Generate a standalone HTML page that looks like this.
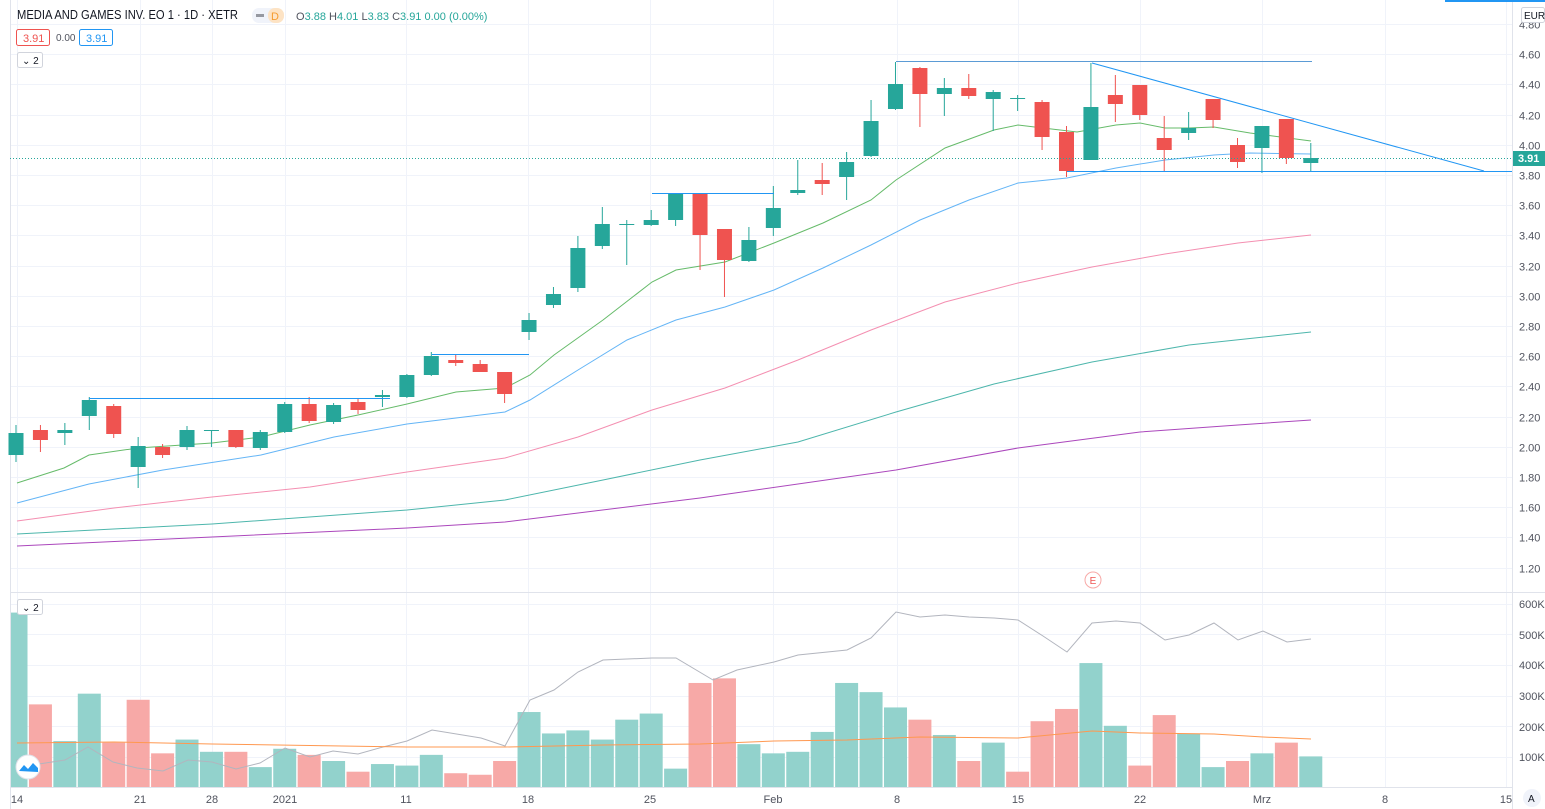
<!DOCTYPE html>
<html><head><meta charset="utf-8"><style>
body{margin:0;width:1545px;height:809px;overflow:hidden;background:#fff;font-family:"Liberation Sans",sans-serif}
svg{position:absolute;left:0;top:0}
.t{font-size:11px;fill:#131722}
.ax{font-size:11px;fill:#50535e}
</style></head><body>
<svg id="s" width="1545" height="809" xmlns="http://www.w3.org/2000/svg">
<defs><clipPath id="cp"><rect x="11" y="0" width="1501" height="787"/></clipPath></defs>
<g id="grid" stroke="#f0f3fa" stroke-width="1"></g>
<line x1="1512.5" y1="0" x2="1512.5" y2="809" stroke="#e0e3eb"/>
<line x1="10" y1="592.5" x2="1545" y2="592.5" stroke="#e0e3eb"/>
<line x1="10" y1="787.5" x2="1512" y2="787.5" stroke="#e0e3eb"/>
<line x1="10.5" y1="0" x2="10.5" y2="809" stroke="#e0e3eb"/>
<rect x="1445" y="0" width="100" height="2" fill="#2196f3"/>
<g id="vol" clip-path="url(#cp)"></g>
<g id="lines" fill="none"></g>
<g id="cand"></g>
<line x1="10" y1="158.5" x2="1512" y2="158.5" stroke="#26a69a" stroke-dasharray="1,2"/>
<g stroke="#2196f3" stroke-width="1">
<line x1="89" y1="398.5" x2="390" y2="398.5"/>
<line x1="432" y1="354.5" x2="529" y2="354.5"/>
<line x1="652" y1="193.5" x2="774" y2="193.5"/>
<line x1="896" y1="61.5" x2="1312" y2="61.5" stroke="#5b9bd5"/>
<line x1="1092" y1="63" x2="1484" y2="171"/>
<line x1="1067" y1="171.5" x2="1512" y2="171.5"/>
</g>
<circle cx="1093" cy="580" r="8" fill="#fff" stroke="#f7a9a7"/>
<text x="1093" y="584" font-size="10" fill="#ef5350" text-anchor="middle">E</text>
<text x="17" y="19" font-size="13" fill="#131722" textLength="221" lengthAdjust="spacingAndGlyphs">MEDIA AND GAMES INV. EO 1 · 1D · XETR</text>
<rect x="252" y="8" width="32" height="15" rx="7" fill="#f0f3fa"/>
<rect x="268" y="8" width="16" height="15" rx="7" fill="#fde3c4"/>
<rect x="256" y="14" width="8" height="3" fill="#9598a1"/>
<text x="271" y="20" font-size="11" fill="#f59b2f">D</text>
<text x="296" y="20" font-size="11" fill="#50535e">O<tspan fill="#26a69a">3.88</tspan> H<tspan fill="#26a69a">4.01</tspan> L<tspan fill="#26a69a">3.83</tspan> C<tspan fill="#26a69a">3.91 0.00 (0.00%)</tspan></text>
<rect x="16.5" y="29.5" width="33" height="16" rx="2" fill="#fff" stroke="#ef5350"/>
<text x="23" y="42" font-size="11" fill="#ef5350">3.91</text>
<text x="56" y="41" font-size="10" fill="#50535e">0.00</text>
<rect x="79.5" y="29.5" width="33" height="16" rx="2" fill="#fff" stroke="#2196f3"/>
<text x="86" y="42" font-size="11" fill="#2196f3">3.91</text>
<rect x="17.5" y="52.5" width="25" height="15" rx="2" fill="#fff" stroke="#d1d4dc"/>
<text x="22" y="64" font-size="10" fill="#131722">⌄ 2</text>
<rect x="17.5" y="599.5" width="25" height="15" rx="2" fill="#fff" stroke="#d1d4dc"/>
<text x="22" y="611" font-size="10" fill="#131722">⌄ 2</text>
<circle cx="28" cy="767" r="12" fill="#fff" stroke="#e0e3eb"/>
<path d="M19 771 l5-6 4 4 5-6 5 5 v4z" fill="#2196f3"/>
<g class="ax" id="pax"></g>
<rect x="1521.5" y="7.5" width="23" height="15" rx="2" fill="#fff" stroke="#d1d4dc"/>
<text x="1524" y="19" font-size="10" fill="#131722">EUR</text>
<rect x="1513" y="151" width="32" height="15" fill="#26a69a"/>
<text x="1518" y="162" font-size="11" font-weight="bold" fill="#fff">3.91</text>
<g class="ax">
<text x="1519" y="608">600K</text><text x="1519" y="639">500K</text><text x="1519" y="669">400K</text>
<text x="1519" y="700">300K</text><text x="1519" y="731">200K</text><text x="1519" y="761">100K</text>
</g>
<g class="ax" text-anchor="middle">
<text x="17" y="803">14</text><text x="140" y="803">21</text><text x="212" y="803">28</text>
<text x="285" y="803">2021</text><text x="406" y="803">11</text><text x="528" y="803">18</text>
<text x="650" y="803">25</text><text x="773" y="803">Feb</text><text x="897" y="803">8</text>
<text x="1018" y="803">15</text><text x="1140" y="803">22</text><text x="1262" y="803">Mrz</text>
<text x="1385" y="803">8</text><text x="1506" y="803">15</text>
</g>
<circle cx="1532" cy="798" r="9" fill="#f0f3fa"/>
<text x="1528" y="802" font-size="10" fill="#131722">A</text>
</svg>
<script>
const NS="http://www.w3.org/2000/svg";
function el(p,t,a){const e=document.createElementNS(NS,t);for(const k in a)e.setAttribute(k,a[k]);document.getElementById(p).appendChild(e);return e;}
const X=i=>16+i*24.43;
[17,140,212,285,406,528,650,773,897,1018,1140,1262,1385,1506].forEach(x=>el("grid","line",{x1:x+.5,y1:0,x2:x+.5,y2:787}));
for(let k=0;k<19;k++){const p=4.8-k*0.2,y=Math.round(175+(3.8-p)*151)+.5;el("grid","line",{x1:10,y1:y,x2:1512,y2:y});
 const t=el("pax","text",{x:1519,y:y+4});t.textContent=p.toFixed(2);}
[604,634,665,696,726,757].forEach(y=>el("grid","line",{x1:10,y1:y+.5,x2:1512,y2:y+.5}));
const V=[[570,1],[270,0],[150,1],[305,1],[145,0],[285,0],[110,0],[155,1],[115,1],[115,0],[65,1],[125,1],[105,0],[85,1],[50,0],[75,1],[70,1],[105,1],[45,0],[40,0],[85,0],[245,1],[175,1],[185,1],[155,1],[220,1],[240,1],[60,1],[340,0],[355,0],[140,1],[110,1],[115,1],[180,1],[340,1],[310,1],[260,1],[220,0],[170,1],[85,0],[145,1],[50,0],[215,0],[255,0],[405,1],[200,1],[70,0],[235,0],[175,1],[65,1],[85,0],[110,1],[145,0],[100,1]];
V.forEach((v,i)=>{const h=v[0]*0.306;el("vol","rect",{x:X(i)-11.5,y:787-h,width:23,height:h,fill:v[1]?"#92d2cc":"#f7a9a7"});});
function pl(pts,c,w){el("lines","polyline",{points:pts.map(p=>p.join(",")).join(" "),stroke:c,"stroke-width":w||1});}
pl([[17,483],[64,468],[89,455],[138,448],[212,443],[261,437],[310,425],[358,415],[407,404],[456,392],[505,388],[530,375],[554,355],[603,320],[652,282],[676,270],[725,262],[774,243],[823,223],[871,200],[896,180],[945,148],[994,130],[1018,125],[1043,128],[1077,132],[1116,125],[1140,123],[1165,128],[1189,128],[1214,127],[1250,133],[1311,141]],"#66bb6a");
pl([[17,503],[89,484],[163,470],[261,455],[334,437],[407,424],[456,418],[505,412],[530,400],[578,370],[627,340],[676,320],[725,307],[774,290],[823,268],[871,245],[920,220],[969,200],[1018,183],[1067,178],[1116,168],[1165,160],[1214,155],[1250,153],[1311,154]],"#64b5f6");
pl([[17,521],[114,508],[212,497],[310,487],[407,472],[505,458],[578,437],[652,410],[725,388],[798,360],[871,330],[945,302],[1018,283],[1092,267],[1165,254],[1238,243],[1311,235]],"#f48fb1");
pl([[17,534],[212,524],[407,510],[505,500],[603,480],[700,460],[798,442],[896,412],[994,384],[1092,362],[1189,345],[1311,332]],"#4db6ac");
pl([[17,546],[212,537],[407,528],[505,522],[700,498],[896,470],[1018,448],[1140,432],[1238,425],[1311,420]],"#ab47bc");
pl([[16,760],[39,764],[65,760],[88,747],[113,762],[137,768],[163,771],[188,760],[212,762],[236,769],[260,763],[285,748],[310,757],[333,751],[358,754],[383,747],[407,741],[432,730],[481,738],[505,746],[530,700],[554,690],[578,672],[603,660],[652,658],[676,658],[713,680],[737,670],[774,662],[798,655],[847,650],[871,638],[896,612],[920,617],[945,615],[969,617],[994,618],[1018,620],[1043,636],[1067,652],[1092,623],[1116,621],[1140,623],[1165,640],[1189,635],[1214,623],[1238,640],[1263,631],[1287,642],[1311,639]],"#b2b5be");
pl([[17,743],[114,742],[212,744],[407,747],[505,747],[603,745],[700,744],[774,741],[847,740],[920,737],[1018,738],[1092,731],[1140,733],[1214,734],[1263,737],[1311,739]],"#ff9850");
const C=[[433,455,425,462,1],[430,440,425,452,0],[430,433,423,445,1],[400,416,397,430,1],[406,434,404,438,0],[446,467,437,488,1],[447,455,444,458,0],[430,447,426,450,1],[430,431,430,447,1],[430,447,430,448,0],[432,448,430,450,1],[404,432,402,433,1],[404,421,397,423,0],[405,422,403,424,1],[402,410,398,414,0],[395,397,390,407,1],[375,397,374,398,1],[356,375,352,376,1],[360,363,355,366,0],[364,372,360,372,0],[372,394,372,403,0],[320,332,313,340,1],[294,305,287,308,1],[248,288,236,292,1],[224,246,207,249,1],[224,225,220,265,1],[220,225,210,226,1],[193,220,193,226,1],[193,235,193,270,0],[229,260,229,297,0],[240,261,227,262,1],[208,228,186,236,1],[190,193,160,195,1],[180,184,163,195,0],[162,177,152,200,1],[121,156,100,157,1],[84,109,62,110,1],[68,94,67,127,0],[88,94,78,116,1],[88,96,74,99,0],[92,99,90,131,1],[98,99,95,111,1],[102,137,100,150,0],[132,171,126,177,0],[107,160,63,160,1],[95,104,75,122,0],[85,115,85,120,0],[138,150,116,172,0],[128,133,112,140,1],[99,120,99,128,0],[145,162,138,168,0],[126,148,126,173,1],[119,158,119,164,0],[158,163,143,171,1]];
C.forEach((c,i)=>{const x=X(i),col=c[4]?"#26a69a":"#ef5350";
 el("cand","line",{x1:x,y1:c[2],x2:x,y2:c[3],stroke:col});
 el("cand","rect",{x:x-7.5,y:c[0],width:15,height:Math.max(1,c[1]-c[0]),fill:col});});
</script>
</body></html>
